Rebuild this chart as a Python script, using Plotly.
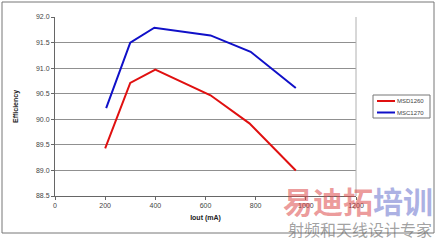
import plotly.graph_objects as go

iout_msd = [200, 300, 400, 620, 775, 960]
eff_msd = [89.43, 90.71, 90.97, 90.47, 89.92, 89.00]
iout_msc = [204, 300, 396, 620, 780, 960]
eff_msc = [90.22, 91.50, 91.79, 91.64, 91.32, 90.61]
series_names = ["MSD1260", "MSC1270"]
series_colors = ["#e01010", "#1010c8"]
x_ticks = [0, 200, 400, 600, 800, 1000, 1200]
y_ticks = [88.5, 89.0, 89.5, 90.0, 90.5, 91.0, 91.5, 92.0]

L, R, T, B = 55, 82, 17, 44
W, H = 438, 240
pw, ph = W - L - R, H - T - B

def px(x):
    return (x - L) / pw

def py(y):
    return (H - B - y) / ph

fnt = "Liberation Sans, Arial, sans-serif"

fig = go.Figure()
fig.add_trace(go.Scatter(x=iout_msd, y=eff_msd, mode="lines", name=series_names[0],
                         line=dict(color=series_colors[0], width=2)))
fig.add_trace(go.Scatter(x=iout_msc, y=eff_msc, mode="lines", name=series_names[1],
                         line=dict(color=series_colors[1], width=2)))

tickfont = dict(family=fnt, size=7, color="#444")
fig.update_layout(
    width=W, height=H,
    margin=dict(l=L, r=R, t=T, b=B, autoexpand=False),
    paper_bgcolor="white", plot_bgcolor="white",
    font=dict(family=fnt, size=7, color="#444"),
    showlegend=False,
    xaxis=dict(range=[0, 1200], tickvals=x_ticks, ticks="outside", ticklen=3,
               tickcolor="#666", showline=True, linecolor="#666", linewidth=1,
               showgrid=False, zeroline=False, tickfont=tickfont,
               title=dict(text="<b>Iout (mA)</b>", font=dict(size=7, color="#222"), standoff=6)),
    yaxis=dict(range=[88.5, 92.0], tickvals=y_ticks, tickformat=".1f", ticksuffix="%",
               ticks="outside", ticklen=3, tickcolor="#666", showline=True,
               linecolor="#666", linewidth=1, showgrid=True, gridcolor="#909090",
               gridwidth=1, zeroline=False, tickfont=tickfont,
               title=dict(text="<b>Efficiency</b>", font=dict(size=7, color="#222"), standoff=16)),
)

# plot area right border
fig.add_shape(type="line", xref="paper", yref="paper", x0=1, x1=1, y0=0, y1=1,
              line=dict(color="#b0b0b0", width=1))
# outer chart frame
fig.add_shape(type="rect", xref="paper", yref="paper",
              x0=px(2), x1=px(434), y0=py(233), y1=py(2),
              line=dict(color="#777", width=1), layer="below")

# legend (manual)
fig.add_shape(type="rect", xref="paper", yref="paper",
              x0=px(373), x1=px(430), y0=py(118), y1=py(95),
              line=dict(color="#777", width=1), fillcolor="white")
for i, (nm, col) in enumerate(zip(series_names, series_colors)):
    yy = 101 + i * 11.5
    fig.add_shape(type="line", xref="paper", yref="paper",
                  x0=px(377), x1=px(395), y0=py(yy), y1=py(yy),
                  line=dict(color=col, width=2))
    fig.add_annotation(xref="paper", yref="paper", x=px(395), y=py(yy), xanchor="left",
                       yanchor="middle", text=nm, showarrow=False,
                       font=dict(family=fnt, size=6, color="#444"))

# watermark
fig.add_annotation(xref="paper", yref="paper", x=px(281), y=py(200), xanchor="left", yanchor="middle",
                   text="<b><span style='color:rgba(220,70,70,0.55)'>易迪拓</span><span style='color:rgba(90,100,200,0.5)'>培训</span></b>",
                   showarrow=False, font=dict(family="Noto Sans CJK SC", size=30))
fig.add_annotation(xref="paper", yref="paper", x=px(286), y=py(229), xanchor="left", yanchor="middle",
                   text="射频和天线设计专家", showarrow=False,
                   font=dict(family="Noto Sans CJK SC", size=16, color="rgba(100,100,100,0.6)"))

fig.write_html("out.html")
